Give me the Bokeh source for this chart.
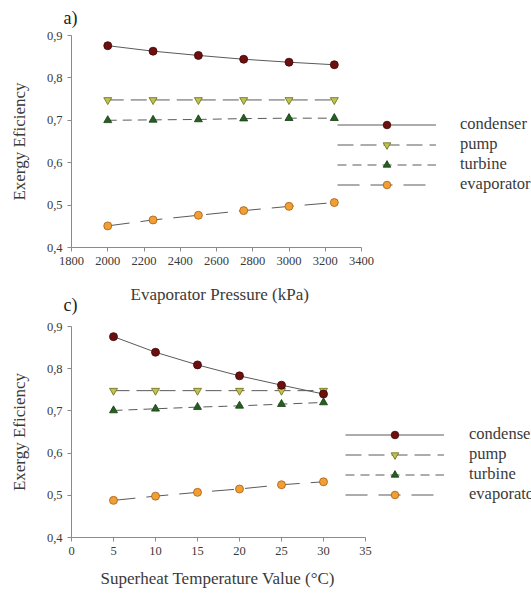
from bokeh.plotting import figure
from bokeh.layouts import column
from bokeh.models import Legend, LegendItem, CustomJSTickFormatter, Range1d, FixedTicker, Title
from bokeh.embed import file_html
from bokeh.resources import INLINE

# ---- data ----
series_names = ["condenser", "pump", "turbine", "evaporator"]

pressure_kpa = [2000, 2250, 2500, 2750, 3000, 3250]
a_condenser = [0.876, 0.863, 0.853, 0.844, 0.837, 0.831]
a_pump = [0.748, 0.748, 0.748, 0.748, 0.748, 0.748]
a_turbine = [0.700, 0.701, 0.702, 0.704, 0.705, 0.705]
a_evaporator = [0.451, 0.465, 0.476, 0.487, 0.497, 0.506]

superheat_c = [5, 10, 15, 20, 25, 30]
c_condenser = [0.876, 0.839, 0.809, 0.783, 0.761, 0.740]
c_pump = [0.748, 0.748, 0.748, 0.748, 0.748, 0.748]
c_turbine = [0.701, 0.705, 0.709, 0.712, 0.716, 0.720]
c_evaporator = [0.488, 0.498, 0.507, 0.515, 0.525, 0.532]

y_ticks = [0.4, 0.5, 0.6, 0.7, 0.8, 0.9]
a_x_ticks = [1800, 2000, 2200, 2400, 2600, 2800, 3000, 3200, 3400]
c_x_ticks = [0, 5, 10, 15, 20, 25, 30, 35]

# ---- styles ----
STYLES = {
    "condenser": dict(dash="solid", marker="circle", fill="#6e0f0f", outline="#3d0505"),
    "pump": dict(dash="16 7", marker="inverted_triangle", fill="#bfc24e", outline="#6a6a1c"),
    "turbine": dict(dash="9 6", marker="triangle", fill="#256020", outline="#163c12"),
    "evaporator": dict(dash="22 11", marker="circle", fill="#f0a033", outline="#a85c18"),
}
MARKER_ORDER = ["pump", "turbine", "evaporator", "condenser"]
SERIF = "Liberation Serif"
TXT = "#3a3a3a"
LINE = "#5a5a5a"
FRAME_W = 460


def make_panel(title, xs, ys_list, xlabel, x_bounds, axis_px, xticks, fh, bt, bb,
               title_standoff, leg_loc, leg_standoff, xlabel_offset, gap_standoff):
    # the frame spans to the right edge so the legend is not clipped; the axis
    # itself is bounded to its own range
    x0, x1 = x_bounds
    x_end = x0 + (x1 - x0) * FRAME_W / axis_px
    p = figure(output_backend="svg", toolbar_location=None,
               frame_width=FRAME_W, frame_height=fh,
               min_border_left=71, min_border_right=0,
               min_border_top=bt, min_border_bottom=bb,
               x_range=Range1d(x0, x_end), y_range=Range1d(0.4, 0.9),
               title=title)
    p.title.text_font = SERIF
    p.title.text_font_size = "18px"
    p.title.text_font_style = "normal"
    p.title.text_color = "#222222"
    p.title.offset = -8
    p.title.standoff = title_standoff
    p.title.vertical_align = "top"
    p.outline_line_color = None
    p.xgrid.visible = False
    p.ygrid.visible = False
    p.background_fill_color = "white"
    p.border_fill_alpha = 0

    data = dict(zip(series_names, ys_list))
    lines = {}
    for name in series_names:
        st = STYLES[name]
        lines[name] = p.line(xs, data[name], line_color=LINE, line_width=1,
                             line_dash=st["dash"])
    marks = {}
    for name in MARKER_ORDER:
        st = STYLES[name]
        marks[name] = p.scatter(xs, data[name], marker=st["marker"], size=8,
                                fill_color=st["fill"], line_color=st["outline"],
                                line_width=0.8)
    items = [LegendItem(label=n, renderers=[lines[n], marks[n]]) for n in series_names]

    leg = Legend(items=items, location=leg_loc, glyph_width=99, glyph_height=19,
                 label_height=19, spacing=0, padding=0, margin=0,
                 label_standoff=leg_standoff, border_line_color=None,
                 background_fill_alpha=0, label_text_font=SERIF,
                 label_text_font_size="16.5px", label_text_color=TXT)
    p.add_layout(leg)

    for ax in (p.xaxis[0], p.yaxis[0]):
        ax.axis_line_color = "#8a8a8a"
        ax.major_tick_line_color = "#8a8a8a"
        ax.minor_tick_line_color = None
        ax.major_tick_out = 4
        ax.major_tick_in = 0
        ax.major_label_text_font = SERIF
        ax.major_label_text_font_size = "12.5px"
        ax.major_label_text_color = TXT
        ax.axis_label_text_font = SERIF
        ax.axis_label_text_font_size = "17px"
        ax.axis_label_text_font_style = "normal"
        ax.axis_label_text_color = TXT
        ax.major_label_standoff = 5

    p.xaxis[0].bounds = x_bounds
    p.xaxis[0].ticker = FixedTicker(ticks=xticks)
    p.yaxis[0].ticker = FixedTicker(ticks=y_ticks)
    p.yaxis[0].formatter = CustomJSTickFormatter(code="return tick.toFixed(1).replace('.', ',');")
    p.yaxis[0].axis_label = "Exergy Eficiency"
    p.yaxis[0].axis_label_standoff = 15

    # small spacer between tick labels and the x-axis title
    gap = Title(text=" ", text_font_size="1px", standoff=gap_standoff)
    p.add_layout(gap, "below")
    xt = Title(text=xlabel, align="left", offset=xlabel_offset, standoff=0,
               vertical_align="top",
               text_font=SERIF, text_font_size="17px", text_font_style="normal",
               text_color=TXT)
    p.add_layout(xt, "below")
    return p


pa = make_panel("a)", pressure_kpa, [a_condenser, a_pump, a_turbine, a_evaporator],
                "Evaporator Pressure (kPa)", (1800, 3400), 290, a_x_ticks,
                212, 35, 53, 12, (266, 53), 24, 59, 14)
pc = make_panel("c)", superheat_c, [c_condenser, c_pump, c_turbine, c_evaporator],
                "Superheat Temperature Value (°C)", (0, 35), 294, c_x_ticks,
                211, 10, 40, 19, (274, 33), 25, 29, 8)
# the second panel's label "c)" sits beside the first panel's x-axis title
pc.margin = (-20, 0, 0, 0)

layout = column(pa, pc, spacing=0)
open("out.html", "w").write(file_html(layout, INLINE))
